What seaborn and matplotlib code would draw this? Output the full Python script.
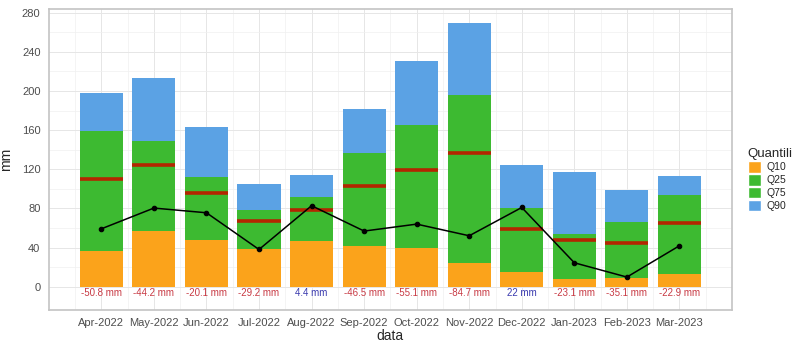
import numpy as np
import pandas as pd
import matplotlib
matplotlib.use("Agg")
import matplotlib.pyplot as plt
import matplotlib.patches as mpatches
import seaborn as sns

# monthly precipitation quantiles vs observed (mm)
months = ["Apr-2022", "May-2022", "Jun-2022", "Jul-2022", "Aug-2022", "Sep-2022",
          "Oct-2022", "Nov-2022", "Dec-2022", "Jan-2023", "Feb-2023", "Mar-2023"]
q10 = [37, 57, 48, 39, 47, 42, 40, 24, 15, 8, 8.5, 13]
q25 = [70, 90, 70, 53, 62, 70, 78, 80, 38, 28, 25, 38]
q75 = [159, 148.5, 112, 78, 92, 137, 165.5, 196, 80, 54, 66, 94]
q90 = [198, 213.5, 163.5, 105, 114, 181.5, 230.5, 269.5, 124, 117, 99, 113.5]
median = [110, 124.6, 95.7, 67.3, 78.4, 103.4, 119.1, 136.8, 59, 47.6, 45, 64.8]
observed = [59.2, 80.4, 75.6, 38.1, 82.8, 56.9, 64, 52.1, 81, 24.5, 9.9, 41.9]
diff_labels = ["-50.8 mm", "-44.2 mm", "-20.1 mm", "-29.2 mm", "4.4 mm", "-46.5 mm",
               "-55.1 mm", "-84.7 mm", "22 mm", "-23.1 mm", "-35.1 mm", "-22.9 mm"]

quant_names = ["Q10", "Q25", "Q75", "Q90"]
quant_colors = {"Q10": "#fba31b", "Q25": "#3dba31", "Q75": "#3dba31", "Q90": "#5ba2e4"}

df = pd.DataFrame({"data": months, "Q10": q10, "Q25": q25, "Q75": q75, "Q90": q90,
                   "median": median, "obs": observed})

sns.set_style("white")
plt.rcParams["font.family"] = ["Liberation Sans", "DejaVu Sans"]

fig = plt.figure(figsize=(8, 3.52), dpi=100)
ax = fig.add_axes([0.061, 0.12, 0.854, 0.855])

bar_w = 0.82
# overlapping bars, tallest first
for q in ["Q90", "Q75", "Q25", "Q10"]:
    sns.barplot(data=df, x="data", y=q, color=quant_colors[q], width=bar_w,
                saturation=1, linewidth=0, edgecolor="none", ax=ax, zorder=2)

xs = np.arange(len(months))
ax.hlines(median, xs - bar_w / 2, xs + bar_w / 2, color="#b32600", lw=2.6, zorder=3)

sns.pointplot(data=df, x="data", y="obs", color="black", markersize=3.2,
              linewidth=1.1, ax=ax, zorder=4)

for i, lab in enumerate(diff_labels):
    col = "#3a3aae" if not lab.startswith("-") else "#c83a44"
    ax.text(i, -6, lab, ha="center", va="center", fontsize=7, color=col, zorder=5)

ax.set_xlim(-1, 12)
ax.set_ylim(-23.5, 284)
ax.set_yticks(np.arange(0, 281, 40))
ax.set_yticks(np.arange(20, 281, 40), minor=True)
ax.set_xticks(np.arange(-0.5, 12, 1), minor=True)
ax.grid(True, which="major", color="#e6e6e6", lw=0.7, zorder=0)
ax.grid(True, which="minor", color="#f0f0f0", lw=0.5, zorder=0)
ax.set_axisbelow(True)

for s in ax.spines.values():
    s.set_color("#c4c4c4")
    s.set_linewidth(1.2)

ax.tick_params(axis="both", which="major", labelsize=8, colors="#c4c4c4",
               labelcolor="#4d4d4d", length=2.5, width=0.6)
ax.tick_params(axis="both", which="minor", length=0)
ax.set_xlabel("data", fontsize=10, labelpad=1)
ax.set_ylabel("mm", fontsize=10, labelpad=6)

handles = [mpatches.Patch(facecolor=quant_colors[q], edgecolor="white", label=q)
           for q in quant_names]
fig.legend(handles=handles, title="Quantili", loc="center left",
           bbox_to_anchor=(0.932, 0.49), frameon=False, fontsize=7.5,
           title_fontsize=9.5, handlelength=1.3, handleheight=1.3,
           handletextpad=0.5, labelspacing=0.15, alignment="left",
           borderpad=0.1, borderaxespad=0.1)

plt.savefig("out.png", dpi=100)
